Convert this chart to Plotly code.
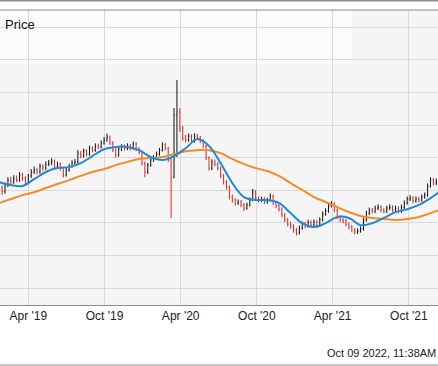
import pandas as pd
import plotly.graph_objects as go

# Weekly bars, week starting Mon 2019-01-21
week_start = "2019-01-21"
n_weeks = 151
dates = pd.date_range(week_start, periods=n_weeks, freq="W-MON")

closes = [50.7, 49.5, 51.6, 53.1, 52.5, 53.7, 53.1, 54.7, 53.7, 52.2,
          54.4, 55.6, 56.2, 55.6, 57.4, 56.8, 58.0, 58.3, 58.9, 57.4,
          58.0, 56.8, 54.7, 56.2, 57.4, 58.3, 58.7, 61.4, 60.5, 62.0,
          61.1, 62.9, 62.3, 63.6, 63.3, 64.5, 65.4, 66.3, 64.5, 62.3,
          60.8, 62.6, 63.3, 62.9, 63.6, 62.9, 64.2, 62.6, 61.7, 58.3,
          55.6, 57.7, 59.3, 59.9, 61.1, 62.3, 63.9, 62.9, 59.3, 54.0,
          73.1, 74.0, 69.1, 66.0, 65.4, 66.6, 65.1, 66.6, 66.0, 65.1,
          63.6, 59.9, 56.8, 58.7, 58.0, 56.8, 54.4, 52.5, 51.0, 47.9,
          47.0, 46.1, 46.4, 45.5, 44.5, 45.5, 47.0, 49.5, 47.6, 47.0,
          47.3, 46.4, 47.0, 48.2, 46.1, 45.2, 44.2, 42.4, 40.9, 39.6,
          39.0, 37.8, 36.9, 38.4, 39.6, 39.0, 40.2, 39.3, 40.2, 39.3,
          40.9, 42.7, 43.6, 45.2, 45.8, 43.9, 41.8, 40.9, 40.6, 39.6,
          38.7, 37.8, 37.2, 37.5, 38.1, 40.9, 43.0, 43.9, 43.6, 44.5,
          44.8, 43.9, 43.6, 44.5, 44.8, 43.9, 44.5, 43.6, 44.8, 46.1,
          47.3, 47.6, 46.7, 47.3, 47.0, 47.9, 48.5, 51.3, 53.1, 52.2,
          52.8]

opens = [50.0] + closes[:-1]

highs = [51.8, 51.4, 52.3, 54.0, 54.2, 54.6, 54.5, 55.6, 55.3, 54.3,
         55.0, 56.5, 57.3, 56.9, 58.2, 58.0, 58.9, 59.3, 59.8, 59.4,
         58.8, 58.5, 57.2, 56.9, 58.1, 59.2, 59.6, 62.3, 62.1, 62.8,
         62.6, 63.7, 63.5, 64.4, 64.3, 65.3, 66.3, 67.4, 66.8, 65.0,
         62.9, 63.3, 64.1, 64.0, 64.4, 64.2, 65.0, 64.8, 63.2, 62.2,
         58.8, 58.4, 60.0, 60.8, 61.9, 63.0, 64.7, 64.5, 63.3, 60.0,
         75.2, 83.8, 75.2, 69.8, 67.0, 67.4, 67.2, 67.5, 67.3, 66.7,
         65.7, 64.1, 60.4, 59.5, 59.4, 58.6, 57.3, 55.0, 53.1, 51.5,
         48.7, 47.6, 47.2, 47.0, 46.1, 46.2, 47.8, 50.4, 50.0, 48.2,
         48.0, 47.9, 47.7, 49.0, 48.7, 46.7, 45.8, 44.8, 43.0, 41.5,
         40.3, 39.6, 38.5, 39.2, 40.4, 40.3, 41.0, 40.8, 41.0, 40.9,
         41.7, 43.5, 44.5, 46.0, 46.7, 46.3, 44.4, 42.4, 41.6, 41.2,
         40.2, 39.3, 38.4, 38.3, 38.9, 41.6, 43.8, 44.7, 44.6, 45.3,
         45.7, 45.4, 44.5, 45.3, 45.7, 45.4, 45.3, 45.0, 45.6, 46.9,
         48.1, 48.5, 48.2, 48.1, 48.0, 48.7, 49.3, 52.1, 54.0, 53.8,
         53.6]

lows = [49.2, 48.6, 49.0, 51.0, 51.8, 52.0, 52.4, 52.6, 52.9, 51.5,
        51.8, 53.8, 55.0, 54.8, 55.1, 56.0, 56.2, 57.4, 57.7, 56.7,
        56.8, 56.0, 53.9, 54.2, 55.7, 56.9, 57.8, 58.2, 59.8, 60.0,
        60.4, 60.6, 61.6, 61.8, 62.6, 62.8, 64.0, 64.9, 63.9, 61.7,
        60.0, 60.3, 62.0, 62.2, 62.3, 62.2, 62.4, 62.0, 61.0, 57.6,
        54.0, 55.0, 57.2, 58.7, 59.4, 60.6, 61.9, 62.2, 58.7, 41.5,
        53.7, 60.2, 67.9, 65.2, 64.6, 64.9, 64.4, 64.6, 65.3, 64.4,
        62.9, 59.2, 56.0, 56.2, 57.3, 56.1, 53.7, 51.8, 50.2, 47.2,
        46.2, 45.3, 45.5, 44.8, 43.6, 44.0, 45.0, 46.6, 47.0, 46.3,
        46.4, 45.7, 45.9, 46.5, 45.4, 44.5, 43.5, 41.7, 40.2, 38.9,
        38.2, 37.0, 36.1, 36.4, 37.9, 38.3, 38.5, 38.6, 38.8, 38.6,
        38.8, 40.4, 42.2, 43.1, 44.7, 43.2, 41.1, 40.2, 39.9, 38.9,
        38.0, 37.1, 36.5, 36.6, 37.0, 37.6, 40.4, 42.4, 42.9, 43.0,
        43.9, 43.2, 42.9, 43.0, 43.9, 43.2, 43.3, 42.9, 43.1, 44.3,
        45.6, 46.7, 46.0, 46.2, 46.3, 46.5, 47.4, 48.0, 50.8, 51.5,
        51.6]

# Moving averages, sampled every 4 weeks
ma_dates = pd.date_range(week_start, periods=39, freq="4W-MON")
ma_short = [52.5, 51.6, 51.3, 53.4, 55.6, 56.8, 57.1, 58.3, 60.5, 62.6,
            63.3, 63.3, 62.3, 60.2, 59.3, 60.5, 62.9, 65.7, 63.6, 58.3,
            52.2, 47.9, 47.0, 47.0, 46.1, 43.0, 39.9, 38.7, 39.9, 41.8,
            41.5, 39.3, 39.9, 41.5, 43.3, 44.2, 45.5, 47.6, 50.1]
ma_long = [46.1, 47.3, 48.5, 49.4, 50.7, 51.9, 53.1, 54.4, 55.6, 56.5,
           57.7, 58.7, 59.6, 59.9, 60.2, 61.1, 62.0, 62.3, 62.3, 61.4,
           59.6, 58.0, 56.8, 55.9, 54.4, 52.2, 50.1, 47.9, 46.4, 44.8,
           43.3, 42.1, 41.5, 41.2, 40.9, 41.2, 41.8, 43.0, 44.2]

tick_dates = ["2019-04-01", "2019-10-01", "2020-04-01", "2020-10-01", "2021-04-01", "2021-10-01"]
tick_labels = ["Apr '19", "Oct '19", "Apr '20", "Oct '20", "Apr '21", "Oct '21"]

FONT = "Arial, Liberation Sans, Helvetica, sans-serif"

fig = go.Figure()
fig.add_trace(go.Ohlc(
    x=dates, open=opens, high=highs, low=lows, close=closes,
    increasing=dict(line=dict(color="#111111", width=1)),
    decreasing=dict(line=dict(color="#d42a2a", width=1)),
    tickwidth=0.25, showlegend=False, hoverinfo="skip"))
fig.add_trace(go.Scatter(x=ma_dates, y=ma_long, mode="lines",
                         line=dict(color="#f28c28", width=2, shape="spline", smoothing=1.0),
                         showlegend=False, hoverinfo="skip"))
fig.add_trace(go.Scatter(x=ma_dates, y=ma_short, mode="lines",
                         line=dict(color="#2289d6", width=2, shape="spline", smoothing=1.0),
                         showlegend=False, hoverinfo="skip"))

H_PLOT = 295.0
def py(px):
    return (305.0 - px) / H_PLOT

fig.update_layout(
    width=438, height=366,
    margin=dict(l=0, r=0, t=10, b=61, pad=0),
    paper_bgcolor="#ffffff", plot_bgcolor="#f5f5f5",
    font=dict(family=FONT, size=12, color="#222222"),
    xaxis=dict(range=["2019-01-23", "2021-12-10"], rangeslider=dict(visible=False),
               tickvals=tick_dates, ticktext=tick_labels, showgrid=True,
               gridcolor="#d9d9d9", gridwidth=1, showline=True, linecolor="#8a8a8a",
               linewidth=1, ticks="", tickfont=dict(size=12, color="#222222"),
               zeroline=False, fixedrange=True),
    yaxis=dict(range=[14.8, 105.3], dtick=10, tick0=0, showgrid=True,
               gridcolor="#d9d9d9", gridwidth=1, showticklabels=False,
               zeroline=False, showline=False, fixedrange=True),
    shapes=[
        dict(type="rect", xref="paper", yref="paper", x0=0, x1=352/438.0, y0=py(64), y1=1,
             fillcolor="rgba(255,255,255,0.55)", line=dict(width=0), layer="below"),
        dict(type="line", xref="paper", yref="paper", x0=0, x1=1, y0=py(0.7), y1=py(0.7),
             line=dict(color="#8c8c8c", width=1.5)),
        dict(type="line", xref="paper", yref="paper", x0=0, x1=1, y0=1, y1=1,
             line=dict(color="#8c8c8c", width=1)),
        dict(type="line", xref="paper", yref="paper", x0=0, x1=1, y0=py(365), y1=py(365),
             line=dict(color="#8c8c8c", width=1)),
    ],
    annotations=[
        dict(text="Price", xref="paper", yref="paper", x=3/438.0, y=py(24),
             xanchor="left", yanchor="middle", showarrow=False,
             font=dict(size=13, color="#111111", family=FONT)),
        dict(text="Oct 09 2022, 11:38AM", xref="paper", yref="paper", x=1.0, y=py(353),
             xanchor="right", yanchor="middle", showarrow=False,
             font=dict(size=11, color="#222222", family=FONT)),
    ],
)

fig.write_html("out.html", config={"displayModeBar": False},
               post_script="document.body.style.margin='0';document.body.style.overflow='hidden';")
